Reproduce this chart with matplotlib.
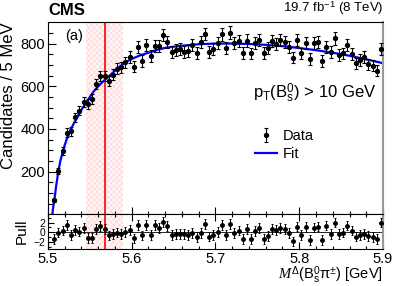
import numpy as np
import matplotlib
matplotlib.use("Agg")
import matplotlib.pyplot as plt

plt.rcParams["font.family"] = ["Liberation Sans", "DejaVu Sans"]
plt.rcParams["mathtext.fontset"] = "custom"
plt.rcParams["mathtext.rm"] = "Liberation Sans"
plt.rcParams["mathtext.it"] = "Liberation Serif:italic"
plt.rcParams["hatch.linewidth"] = 0.5

# bin centres (5 MeV bins), first filled bin just above threshold
mass = np.arange(5.5075, 5.9, 0.005)

counts = [66, 205, 297, 383, 389, 455, 486, 528, 516, 541,
          611, 648, 648, 625, 654, 683, 689, 712, 736, 692,
          783, 718, 793, 742, 790, 790, 840, 806, 762, 768,
          773, 759, 767, 793, 756, 806, 845, 759, 776, 801,
          843, 778, 851, 801, 812, 757, 814, 754, 801, 815,
          757, 781, 812, 797, 817, 806, 783, 734, 815, 754,
          801, 728, 801, 806, 718, 785, 759, 824, 747, 754,
          793, 750, 708, 723, 736, 703, 697, 673, 773]

pulls = [-1.45, -0.07, 0.34, 1.5, -0.55, 0.48, 0.14, 0.83, -1.24, -1.24,
         0.62, 1.3, 0.62, -0.69, -0.34, -0.07, -0.34, 0.0, 0.48, -1.3,
         1.5, -0.69, 1.5, -0.55, 1.5, 0.83, 2.07, 1.3, -0.55, -0.34,
         -0.34, -0.34, -0.55, -0.2, -1.03, -0.2, 1.65, -0.9, -0.55,
         0.0, 1.5, -0.55, 1.65, -0.2, 0.34, -1.38, 0.62, -1.45, 0.28,
         0.83, -1.45, -0.76, 0.62, 0.48, 0.83, 0.62, -0.2, -1.93, 1.17,
         -0.55, 1.03, -1.6, 0.97, 1.17, -1.6, 1.38, -0.34, 2.0, -0.34,
         -0.07, 1.38, 0.34, -0.9, -0.55, -0.34, -0.76, -1.03, -1.45, 2.0]

# fit curve
fit_x = [5.5052, 5.506, 5.5075, 5.51, 5.5125, 5.515, 5.5175, 5.52, 5.5225,
         5.525, 5.5275, 5.53, 5.535, 5.54, 5.545, 5.55, 5.555, 5.56, 5.565,
         5.57, 5.575, 5.58, 5.585, 5.59, 5.595, 5.60, 5.61, 5.62, 5.63, 5.64,
         5.66, 5.68, 5.70, 5.72, 5.74, 5.76, 5.78, 5.80, 5.82, 5.84, 5.86,
         5.88, 5.90]
fit_y = [0, 28, 66, 140, 206, 255, 291, 325, 354,
         378, 400, 420, 455, 490, 520, 550, 578, 600, 620,
         637, 655, 673, 690, 705, 718, 728, 745, 757, 770, 780,
         790, 797, 800, 800, 798, 794, 788, 779, 769, 757, 743,
         726, 708]

band = (5.545, 5.59)
peak = 5.568

fig = plt.figure(figsize=(3.99, 2.86), dpi=100)
ax = fig.add_axes([0.1203, 0.2503, 0.8396, 0.6728])
axp = fig.add_axes([0.1203, 0.1294, 0.8396, 0.1209], sharex=ax)

for a in (ax, axp):
    a.axvspan(*band, facecolor="#fff7f7", edgecolor="#ffd4d4", hatch="xxxxxx",
              linewidth=0, zorder=0)
    a.axvline(peak, color="#ff0000", lw=1.2, zorder=1)

cnt = np.array(counts, dtype=float)
data = ax.errorbar(mass, cnt, yerr=np.sqrt(cnt), fmt="o", color="black",
                   ms=2.8, elinewidth=0.8, capsize=1.2, capthick=0.8, zorder=3)
fit, = ax.plot(fit_x, fit_y, color="#0000ff", lw=1.6, zorder=2)

ax.set_xlim(5.5, 5.9)
ax.set_ylim(0, 901)
ax.set_yticks([200, 400, 600, 800])
ax.set_yticks(np.arange(50, 900, 50), minor=True)
ax.set_xticks(np.arange(5.5, 5.91, 0.1))
ax.set_xticks(np.arange(5.5, 5.91, 0.02), minor=True)
ax.tick_params(axis="both", which="both", direction="in", labelsize=10.5,
               top=False, right=False)
ax.tick_params(axis="y", which="major", length=6, width=0.8, pad=2)
ax.tick_params(axis="y", which="minor", length=3.5, width=0.8)
ax.tick_params(axis="x", which="major", length=5, width=0.8, labelbottom=False)
ax.tick_params(axis="x", which="minor", length=2.5, width=0.8)
ax.spines["right"].set_color("#999999")
ax.spines["right"].set_linewidth(1.5)
ax.set_ylabel("Candidates / 5 MeV", fontsize=12, loc="top", labelpad=3)

ax.text(0.05, 0.965, "(a)", transform=ax.transAxes, fontsize=10.5,
        ha="left", va="top")
ax.text(0.612, 0.63, r"p$_{\rm T}$(B$_{\rm s}^{0}$) > 10 GeV",
        transform=ax.transAxes, fontsize=12, ha="left", va="center")
fig.text(0.1203, 0.937, "CMS", fontsize=12, fontweight="bold",
         ha="left", va="bottom")
fig.text(0.96, 0.94, r"19.7 fb$^{-1}$ (8 TeV)", fontsize=9.5,
         ha="right", va="bottom")

ax.legend([data, fit], ["Data", "Fit"], loc="upper left",
          bbox_to_anchor=(255 / 399, 1 - 129 / 286),
          bbox_transform=fig.transFigure, frameon=False, fontsize=10.5,
          handlelength=1.5, handletextpad=0.4, labelspacing=0.25,
          borderpad=0, borderaxespad=0)

axp.errorbar(mass, pulls, yerr=np.ones(len(pulls)), fmt="o", color="black",
             ms=2.5, elinewidth=0.7, capsize=1.0, capthick=0.7, zorder=3)
axp.axhline(0, color="black", lw=0.6, zorder=2)
axp.set_ylim(-3.5, 3.7)
axp.set_yticks([-2, 0, 2])
axp.set_yticks([-3, -1, 1, 3], minor=True)
axp.tick_params(axis="both", which="both", direction="in",
                top=True, right=False)
axp.tick_params(axis="x", labelsize=10.5)
axp.tick_params(axis="y", labelsize=7.5, pad=2)
axp.tick_params(axis="x", which="major", length=5, width=0.8, pad=2)
axp.tick_params(axis="x", which="minor", length=2.5, width=0.8)
axp.tick_params(axis="y", which="major", length=4, width=0.8)
axp.tick_params(axis="y", which="minor", length=2, width=0.8)
axp.spines["right"].set_color("#999999")
axp.spines["right"].set_linewidth(1.5)
axp.set_xticklabels(["5.5", "5.6", "5.7", "5.8", "5.9"])
axp.set_ylabel("Pull", fontsize=11, labelpad=3)
axp.set_xlabel(r"$M^{\Delta}$(B$_{\rm s}^{0}$π$^{\pm}$) [GeV]", fontsize=10.5,
               loc="right", labelpad=-1)

fig.savefig("out.png", dpi=100)
